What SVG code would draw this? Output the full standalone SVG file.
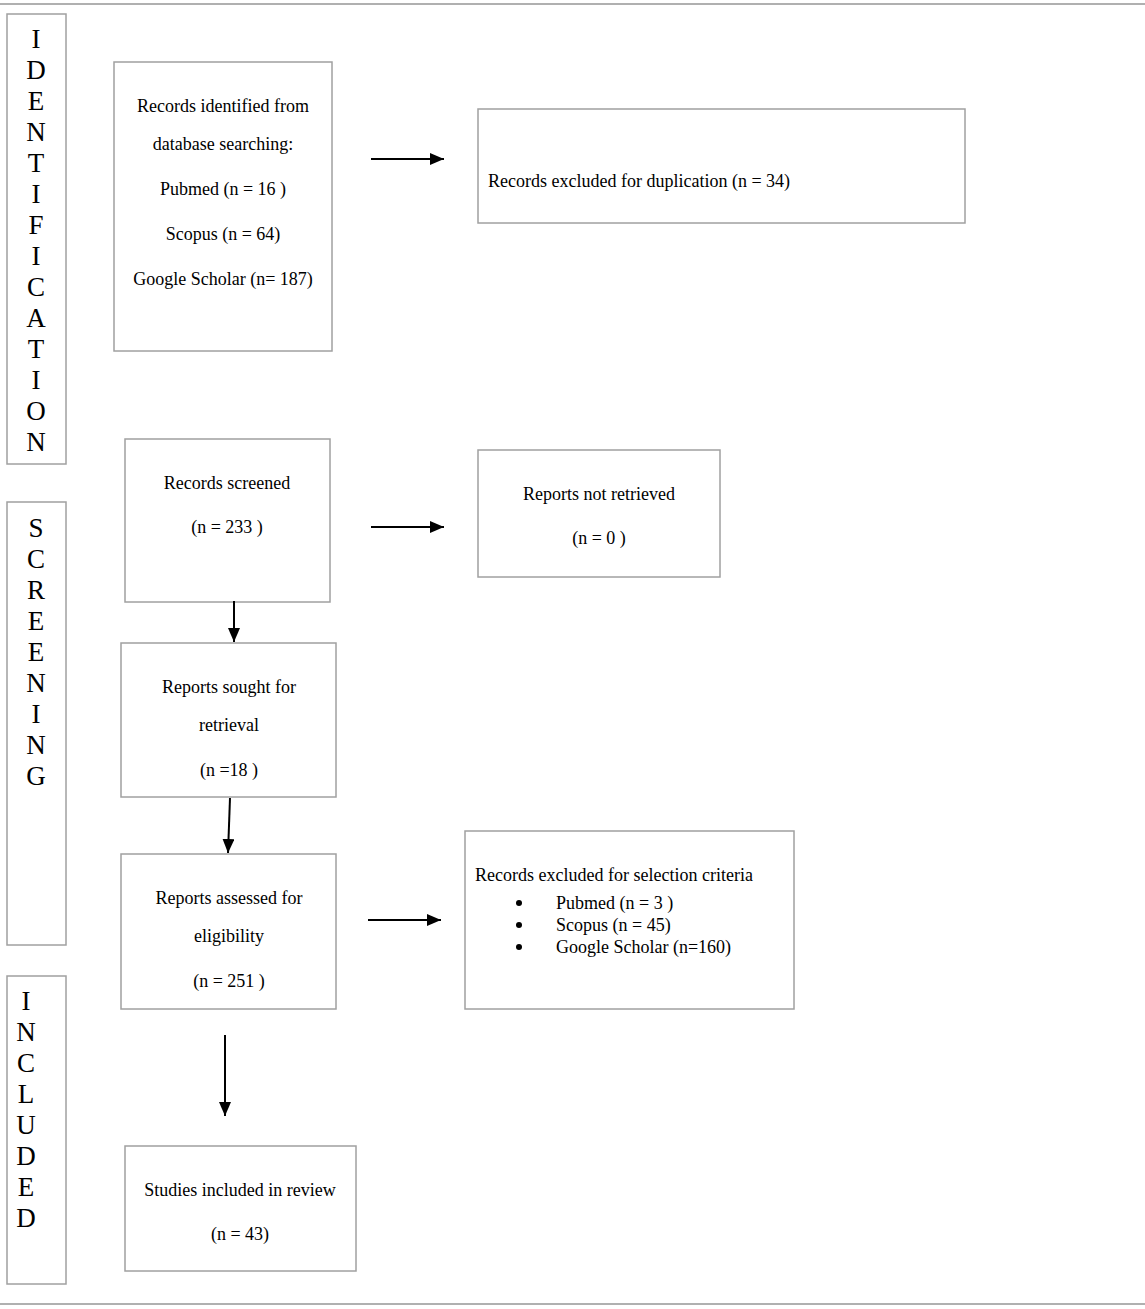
<svg xmlns="http://www.w3.org/2000/svg" width="1145" height="1309" viewBox="0 0 1145 1309">
<defs>
<marker id="ah" markerUnits="userSpaceOnUse" markerWidth="14" markerHeight="12" refX="14" refY="6" orient="auto">
<path d="M0,0 L14,6 L0,12 z" fill="#000"/>
</marker>
<style>
.box{fill:#fff;stroke:#a0a0a0;stroke-width:1.5}
.rule{stroke:#b0b0b0;stroke-width:2}
.t{font-family:"Liberation Serif","Times New Roman",serif;font-size:18px;fill:#000}
.c{text-anchor:middle}
.side{font-family:"Liberation Serif","Times New Roman",serif;font-size:27px;fill:#000;text-anchor:middle}
.conn{stroke:#000;stroke-width:2;fill:none;marker-end:url(#ah)}
</style>
</defs>
<rect width="1145" height="1309" fill="#fff"/>
<line class="rule" x1="0" y1="4" x2="1145" y2="4"/>
<line class="rule" x1="0" y1="1304" x2="1145" y2="1304"/>

<g id="stage-identification">
<rect class="box" x="7" y="14" width="59" height="450"/>
<text class="side"><tspan x="36" y="48">I</tspan><tspan x="36" y="79">D</tspan><tspan x="36" y="110">E</tspan><tspan x="36" y="141">N</tspan><tspan x="36" y="172">T</tspan><tspan x="36" y="203">I</tspan><tspan x="36" y="234">F</tspan><tspan x="36" y="265">I</tspan><tspan x="36" y="296">C</tspan><tspan x="36" y="327">A</tspan><tspan x="36" y="358">T</tspan><tspan x="36" y="389">I</tspan><tspan x="36" y="420">O</tspan><tspan x="36" y="451">N</tspan></text>
</g>
<g id="stage-screening">
<rect class="box" x="7" y="502" width="59" height="443"/>
<text class="side"><tspan x="36" y="537">S</tspan><tspan x="36" y="568">C</tspan><tspan x="36" y="599">R</tspan><tspan x="36" y="630">E</tspan><tspan x="36" y="661">E</tspan><tspan x="36" y="692">N</tspan><tspan x="36" y="723">I</tspan><tspan x="36" y="754">N</tspan><tspan x="36" y="785">G</tspan></text>
</g>
<g id="stage-included">
<rect class="box" x="7" y="976" width="59" height="308"/>
<text class="side"><tspan x="26" y="1010">I</tspan><tspan x="26" y="1041">N</tspan><tspan x="26" y="1072">C</tspan><tspan x="26" y="1103">L</tspan><tspan x="26" y="1134">U</tspan><tspan x="26" y="1165">D</tspan><tspan x="26" y="1196">E</tspan><tspan x="26" y="1227">D</tspan></text>
</g>

<g id="records-identified">
<rect class="box" x="114" y="62" width="218" height="289"/>
<text class="t c" x="223" y="112">Records identified from</text>
<text class="t c" x="223" y="150">database searching:</text>
<text class="t c" x="223" y="195">Pubmed (n = 16 )</text>
<text class="t c" x="223" y="240">Scopus (n = 64)</text>
<text class="t c" x="223" y="285">Google Scholar (n= 187)</text>
</g>
<g id="excluded-duplication">
<rect class="box" x="478" y="109" width="487" height="114"/>
<text class="t" x="488" y="187">Records excluded for duplication (n = 34)</text>
</g>
<g id="records-screened">
<rect class="box" x="125" y="439" width="205" height="163"/>
<text class="t c" x="227" y="489">Records screened</text>
<text class="t c" x="227" y="533">(n = 233 )</text>
</g>
<g id="not-retrieved">
<rect class="box" x="478" y="450" width="242" height="127"/>
<text class="t c" x="599" y="500">Reports not retrieved</text>
<text class="t c" x="599" y="544">(n = 0 )</text>
</g>
<g id="sought-retrieval">
<rect class="box" x="121" y="643" width="215" height="154"/>
<text class="t c" x="229" y="693">Reports sought for</text>
<text class="t c" x="229" y="731">retrieval</text>
<text class="t c" x="229" y="776">(n =18 )</text>
</g>
<g id="assessed-eligibility">
<rect class="box" x="121" y="854" width="215" height="155"/>
<text class="t c" x="229" y="904">Reports assessed for</text>
<text class="t c" x="229" y="942">eligibility</text>
<text class="t c" x="229" y="987">(n = 251 )</text>
</g>
<g id="excluded-criteria">
<rect class="box" x="465" y="831" width="329" height="178"/>
<text class="t" x="475" y="881">Records excluded for selection criteria</text>
<circle cx="519" cy="903" r="3" fill="#000"/>
<circle cx="519" cy="925" r="3" fill="#000"/>
<circle cx="519" cy="947" r="3" fill="#000"/>
<text class="t" x="556" y="909">Pubmed (n = 3 )</text>
<text class="t" x="556" y="931">Scopus (n = 45)</text>
<text class="t" x="556" y="953">Google Scholar (n=160)</text>
</g>
<g id="studies-included">
<rect class="box" x="125" y="1146" width="231" height="125"/>
<text class="t c" x="240" y="1196">Studies included in review</text>
<text class="t c" x="240" y="1240">(n = 43)</text>
</g>

<g id="connectors">
<line class="conn" x1="371" y1="159" x2="444" y2="159"/>
<line class="conn" x1="371" y1="527" x2="444" y2="527"/>
<line class="conn" x1="234" y1="601" x2="234" y2="642"/>
<line class="conn" x1="230" y1="798" x2="228" y2="853"/>
<line class="conn" x1="368" y1="920" x2="441" y2="920"/>
<line class="conn" x1="225" y1="1035" x2="225" y2="1116"/>
</g>
</svg>
